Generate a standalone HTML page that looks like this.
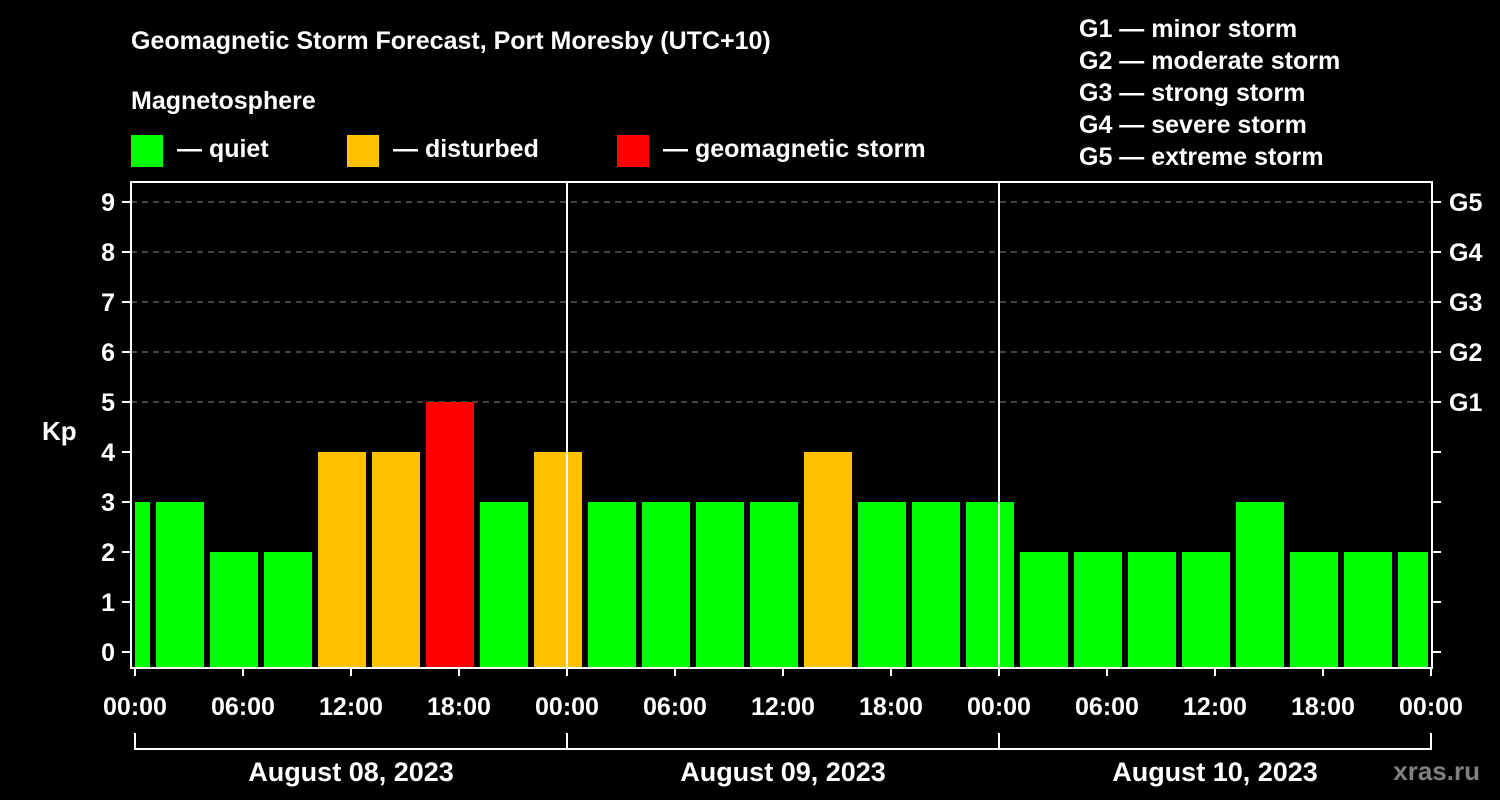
<!DOCTYPE html>
<html><head><meta charset="utf-8"><style>
html,body{margin:0;padding:0;background:#000;}
svg{display:block;font-family:"Liberation Sans",Arial,sans-serif;font-weight:bold;}
</style></head><body>
<svg id="chart" width="1500" height="800" viewBox="0 0 1500 800">
<rect width="1500" height="800" fill="#000"/>
<text x="131" y="49" fill="#fff" font-size="25">Geomagnetic Storm Forecast, Port Moresby (UTC+10)</text>
<text x="131" y="109" fill="#fff" font-size="25">Magnetosphere</text>
<g>
<rect x="131" y="135" width="32" height="32" fill="#00ff00"/>
<text x="177" y="157" fill="#fff" font-size="25">— quiet</text>
<rect x="347" y="135" width="32" height="32" fill="#ffc000"/>
<text x="393" y="157" fill="#fff" font-size="25">— disturbed</text>
<rect x="617" y="135" width="32" height="32" fill="#ff0000"/>
<text x="663" y="157" fill="#fff" font-size="25">— geomagnetic storm</text>
</g>
<g fill="#fff" font-size="25">
<text x="1079" y="37">G1 — minor storm</text>
<text x="1079" y="69">G2 — moderate storm</text>
<text x="1079" y="101">G3 — strong storm</text>
<text x="1079" y="133">G4 — severe storm</text>
<text x="1079" y="165">G5 — extreme storm</text>
</g>
<text x="42" y="440" fill="#fff" font-size="26">Kp</text>
<text x="1480" y="780" fill="#808080" font-size="26" text-anchor="end">xras.ru</text>
<g id="grid"></g><g id="bars"></g><g id="axes"></g>
</svg>
<script>
const kpValues=[3,3,2,2,4,4,5,3,4,3,3,3,3,4,3,3,3,2,2,2,2,3,2,2,2];
const binStartHour=-2;
const binHours=3;
const yTicks=[0,1,2,3,4,5,6,7,8,9];
const gLabels=["G1","G2","G3","G4","G5"];
const gLevels=[5,6,7,8,9];
const dayLabels=["August 08, 2023","August 09, 2023","August 10, 2023"];
const hourLabels=["00:00","06:00","12:00","18:00"];

const NS="http://www.w3.org/2000/svg";
const X0=135,PXH=18,Y0=652,PXK=50,L=131,R=1432,T=182,B=668;
const x=h=>X0+h*PXH, y=k=>Y0-k*PXK;
function mk(p,t,a){const e=document.createElementNS(NS,t);for(const k in a)e.setAttribute(k,a[k]);p.appendChild(e);return e;}
const grid=document.getElementById('grid'),bars=document.getElementById('bars'),axes=document.getElementById('axes');
gLevels.forEach(k=>{
 const l=mk(grid,'line',{x1:L,x2:R,y1:y(k),y2:y(k),stroke:'#888','stroke-dasharray':'6,5','stroke-width':1});
 
 
});
const totalH=dayLabels.length*24;
kpValues.forEach((v,i)=>{
 let a=x(binStartHour+i*binHours)+3,b=x(binStartHour+(i+1)*binHours)-3;
 a=Math.max(a,X0);b=Math.min(b,x(totalH)-3);
 const c=v>=5?'#ff0000':(v>=4?'#ffc000':'#00ff00');
 const r=mk(bars,'rect',{x:a,y:y(v),width:b-a,height:B-y(v),fill:c});
 
 
});
for(let d=1;d<dayLabels.length;d++){
 const l=mk(axes,'line',{x1:x(d*24),x2:x(d*24),y1:T,y2:B,stroke:'#fff','stroke-width':2});
 
 
}
const f=mk(axes,'rect',{x:L,y:T,width:R-L,height:B-T,fill:'none',stroke:'#fff','stroke-width':2});


yTicks.forEach(k=>{
 mk(axes,'line',{x1:122,x2:L,y1:y(k),y2:y(k),stroke:'#fff','stroke-width':2});
 mk(axes,'line',{x1:R,x2:1441,y1:y(k),y2:y(k),stroke:'#fff','stroke-width':2});
 const t=mk(axes,'text',{x:115,y:y(k)+9,fill:'#fff','font-size':25,'text-anchor':'end'});
 t.textContent=k;
 
 
});
gLevels.forEach((k,i)=>{
 const t=mk(axes,'text',{x:1449,y:y(k)+9,fill:'#fff','font-size':25});
 t.textContent=gLabels[i];
 
 
});
for(let h=0;h<=totalH;h+=6){
 mk(axes,'line',{x1:x(h),x2:x(h),y1:B,y2:676,stroke:'#fff','stroke-width':2});
 const t=mk(axes,'text',{x:x(h),y:715,fill:'#fff','font-size':25,'text-anchor':'middle'});
 t.textContent=hourLabels[(h/6)%4];
 
 
}
mk(axes,'line',{x1:x(0),x2:x(totalH),y1:749,y2:749,stroke:'#fff','stroke-width':2});
for(let d=0;d<=dayLabels.length;d++) mk(axes,'line',{x1:x(d*24),x2:x(d*24),y1:733,y2:750,stroke:'#fff','stroke-width':2});
dayLabels.forEach((s,d)=>{
 const t=mk(axes,'text',{x:x(d*24+12),y:781,fill:'#fff','font-size':27,'text-anchor':'middle'});
 t.textContent=s;
 
 
});
</script>
</body></html>
